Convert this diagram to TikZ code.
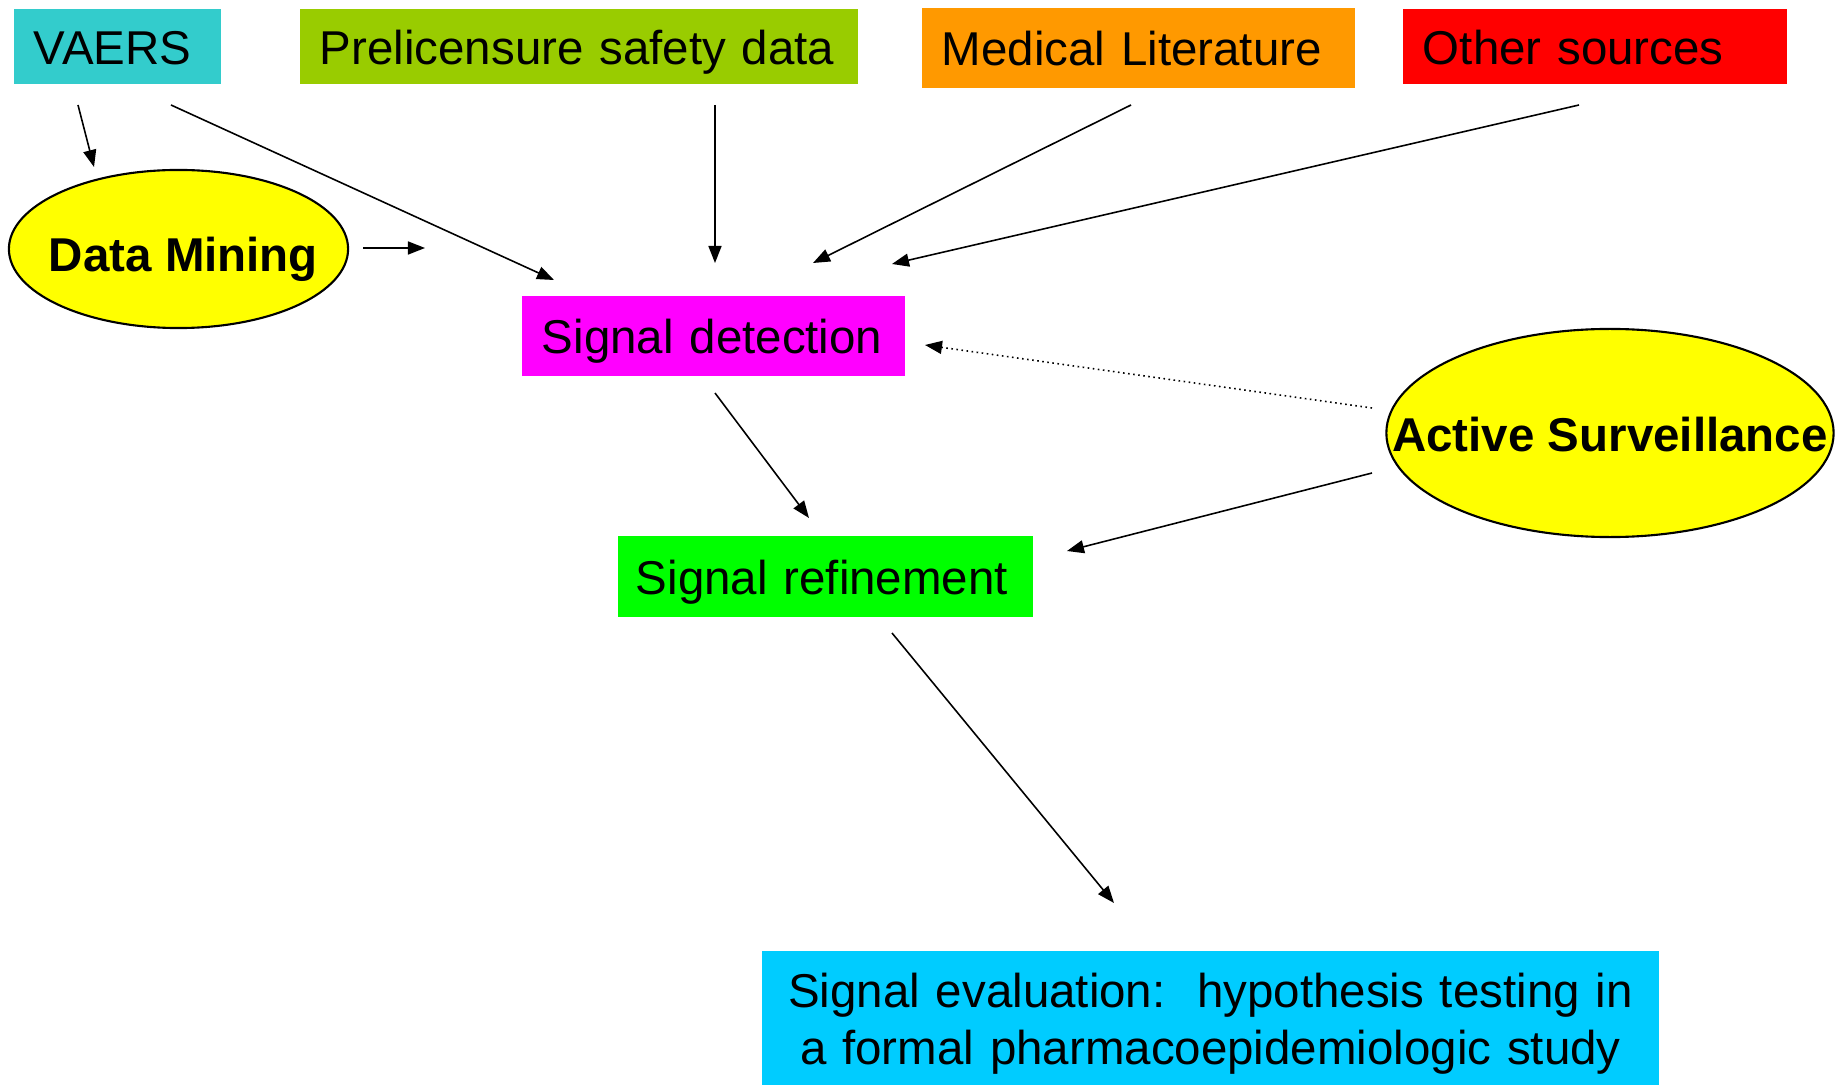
\documentclass[tikz,border=0pt]{standalone}
\usepackage{fontspec}
\setmainfont{Liberation Sans}
\usetikzlibrary{arrows.meta,shapes.geometric}

\definecolor{vaerscol}{HTML}{33CCCC}
\definecolor{prelcol}{HTML}{99CC00}
\definecolor{medcol}{HTML}{FF9900}
\definecolor{othercol}{HTML}{FF0000}
\definecolor{detcol}{HTML}{FF00FF}
\definecolor{refcol}{HTML}{00FF00}
\definecolor{evalcol}{HTML}{00CCFF}
\definecolor{ovalcol}{HTML}{FFFF00}

\newcommand{\boxfont}{\frenchspacing\fontsize{13.5}{16.3}\selectfont}

\begin{document}
\begin{tikzpicture}[x=0.01cm,y=-0.01cm,
  every node/.style={font=\boxfont},
  srcbox/.style={rectangle, inner xsep=0.2cm, inner ysep=0pt, align=left,
                 text height=0.35cm, text depth=0cm},
  oval/.style={ellipse, draw=black, line width=0.6pt, fill=ovalcol, inner sep=0pt},
  ovaltext/.style={font=\boxfont\bfseries},
  arr/.style={-{Triangle[length=0.17cm,width=0.13cm]}, line width=0.45pt}]

  \useasboundingbox (0,0) rectangle (1835,1085);

  % Quellen oben
  \node[srcbox, fill=vaerscol, text width=1.67cm, minimum height=0.75cm] (vaers) at (117.5,46.5) {VAERS};
  \node[srcbox, fill=prelcol, text width=5.18cm, minimum height=0.75cm] (prel) at (579,46.5) {Prelicensure safety data};
  \node[srcbox, fill=medcol, text width=3.93cm, minimum height=0.80cm] (medlit) at (1138.5,48) {Medical Literature};
  \node[srcbox, fill=othercol, text width=3.44cm, minimum height=0.75cm] (other) at (1595,46.5) {Other sources};

  % Ovale
  \node[oval, minimum width=3.39cm, minimum height=1.58cm,
        label={[ovaltext, xshift=0.05cm, yshift=-0.1cm]center:Data Mining}] (dm) at (178.5,249) {};
  \node[oval, minimum width=4.47cm, minimum height=2.08cm,
        label={[ovaltext, yshift=-0.02cm]center:Active Surveillance}] (as) at (1610,433) {};

  % Signal-Kette
  \node[srcbox, fill=detcol, text width=3.43cm, minimum height=0.80cm] (sigdet) at (713.5,336) {Signal detection};
  \node[srcbox, fill=refcol, inner xsep=0.18cm, text width=3.79cm, minimum height=0.81cm] (sigref) at (825.5,576.5) {Signal refinement};
  \node[rectangle, fill=evalcol, inner sep=0pt, text width=8.97cm, minimum height=1.46cm, align=center] (sigeval) at (1210.5,1024)
    {Signal evaluation:~ hypothesis testing in\\a formal pharmacoepidemiologic study};

  % Anfangs- und Endpunkte der Pfeile
  \coordinate (vaers-o1) at (78,105);
  \coordinate (vaers-o2) at (171,105);
  \coordinate (dm-i) at (94,167);
  \coordinate (dm-o) at (363,248);
  \coordinate (dm-e) at (425,248);
  \coordinate (prel-o) at (715,105);
  \coordinate (medlit-o) at (1131,105);
  \coordinate (other-o) at (1579,105);
  \coordinate (sigdet-i1) at (554,280);
  \coordinate (sigdet-i2) at (715,263);
  \coordinate (sigdet-i3) at (813,263);
  \coordinate (sigdet-i4) at (892,264);
  \coordinate (sigdet-i5) at (925,345);
  \coordinate (sigdet-o) at (715,393);
  \coordinate (as-o1) at (1372,408);
  \coordinate (as-o2) at (1372,473);
  \coordinate (sigref-i1) at (809,518);
  \coordinate (sigref-i2) at (1067,551);
  \coordinate (sigref-o) at (892,633);
  \coordinate (sigeval-i) at (1114,903);

  % Pfeile
  \draw[arr] (vaers-o1) -- (dm-i);
  \draw[arr] (vaers-o2) -- (sigdet-i1);
  \draw[arr] (dm-o) -- (dm-e);
  \draw[arr] (prel-o) -- (sigdet-i2);
  \draw[arr] (medlit-o) -- (sigdet-i3);
  \draw[arr] (other-o) -- (sigdet-i4);
  \draw[arr, densely dotted] (as-o1) -- (sigdet-i5);
  \draw[arr] (as-o2) -- (sigref-i2);
  \draw[arr] (sigdet-o) -- (sigref-i1);
  \draw[arr] (sigref-o) -- (sigeval-i);

\end{tikzpicture}
\end{document}
